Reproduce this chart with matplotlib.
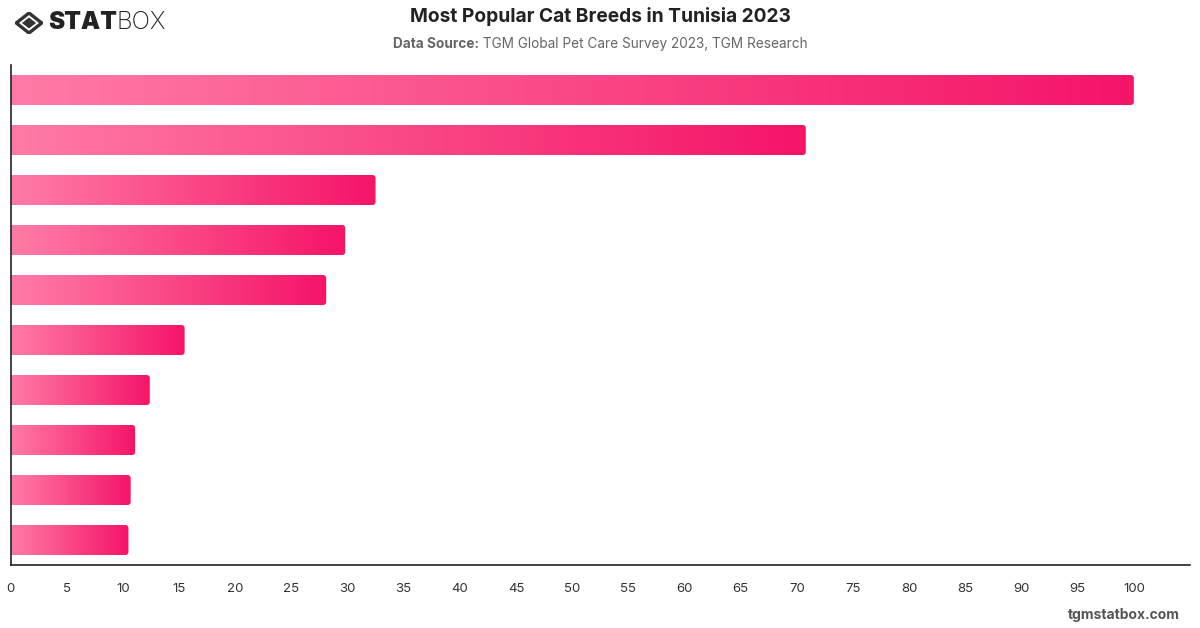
import numpy as np
import matplotlib
matplotlib.use('Agg')
import matplotlib.pyplot as plt
from matplotlib.patches import FancyBboxPatch, Polygon

plt.rcParams['font.family'] = ['Inter', 'DejaVu Sans']

# Valores (escala relativa, maior = 100)
ranks  = [1, 2, 3, 4, 5, 6, 7, 8, 9, 10]
values = [100, 70.8, 32.5, 29.8, 28.1, 15.5, 12.4, 11.1, 10.7, 10.5]
xticks = list(range(0, 101, 5))

TITLE    = 'Most Popular Cat Breeds in Tunisia 2023'
SOURCE_B = 'Data Source:'
SOURCE   = ' TGM Global Pet Care Survey 2023, TGM Research'

C_LEFT  = np.array([0xff, 0x7b, 0xa6]) / 255
C_RIGHT = np.array([0xf5, 0x14, 0x68]) / 255

W, H = 1200, 628
fig = plt.figure(figsize=(W / 100, H / 100), dpi=100)
fig.patch.set_facecolor('white')

ax = fig.add_axes([10.5 / W, 1 - 565 / H, (1190 - 10.5) / W, 500 / H])
ax.set_xlim(0, 105)
ax.set_ylim(len(values) - 0.5, -0.5)

px_x = (1190 - 10.5) / 105      # pixels por unidade em x
px_y = 50.0                     # pixels por unidade em y
r_px = 3.0
bar_h = 0.6

grad = np.linspace(0, 1, 256)[None, :, None]
for i, v in enumerate(values):
    img = C_LEFT + (C_RIGHT - C_LEFT) * grad
    im = ax.imshow(img, extent=[0, v, i + bar_h / 2, i - bar_h / 2],
                   aspect='auto', interpolation='bilinear', zorder=2)
    clip = FancyBboxPatch((-1, i - bar_h / 2), v + 1, bar_h,
                          boxstyle=f'round,pad=0,rounding_size={r_px / px_x}',
                          mutation_aspect=px_x / px_y,
                          facecolor='none', edgecolor='none',
                          transform=ax.transData)
    ax.add_patch(clip)
    im.set_clip_path(clip)

ax.set_xlim(0, 105)
ax.set_ylim(len(values) - 0.5, -0.5)
ax.set_xticks(xticks)
ax.set_xticklabels([str(t) for t in xticks])
ax.set_yticks([])
ax.tick_params(axis='x', length=0, pad=13, labelsize=9.5, labelcolor='#333333')
for s in ['top', 'right']:
    ax.spines[s].set_visible(False)
for s in ['left', 'bottom']:
    ax.spines[s].set_color('#222222')
    ax.spines[s].set_linewidth(1.2)

# Título e fonte
fig.text(600 / W, 1 - 17 / H, TITLE, ha='center', va='center',
         fontsize=13.8, fontweight='bold', color='#222222')
t1 = fig.text(0, 1 - 44 / H, SOURCE_B, ha='left', va='center',
              fontsize=9.8, fontweight='bold', color='#666666')
t2 = fig.text(0, 1 - 44 / H, SOURCE, ha='left', va='center',
              fontsize=9.8, color='#666666')
fig.canvas.draw()
r = fig.canvas.get_renderer()
w1 = t1.get_window_extent(r).width
w2 = t2.get_window_extent(r).width
x0 = (600 - (w1 + w2) / 2)
t1.set_x(x0 / W)
t2.set_x((x0 + w1) / W)

# Logo STATBOX
lax = fig.add_axes([15 / W, 1 - 34 / H, 28 / W, 22 / H])
lax.set_xlim(-1.1, 1.1)
lax.set_ylim(-1.1, 1.1)
lax.axis('off')
outer = Polygon([[0, 1], [1, 0], [0, -1], [-1, 0]], closed=True,
                facecolor='none', edgecolor='#333333', linewidth=2.4)
inner = Polygon([[0, 0.55], [0.55, 0], [0, -0.55], [-0.55, 0]], closed=True,
                facecolor='#333333', edgecolor='none')
lax.add_patch(outer)
lax.add_patch(inner)
s1 = fig.text(48 / W, 1 - 22.5 / H, 'STAT', ha='left', va='center',
              fontsize=17.5, fontweight='black', color='#222222')
fig.canvas.draw()
ws = s1.get_window_extent(r).width
fig.text((48 + ws) / W, 1 - 22.5 / H, 'BOX', ha='left', va='center',
         fontsize=17.5, fontweight='light', color='#222222')

fig.text(1180 / W, 1 - 615 / H, 'tgmstatbox.com', ha='right', va='center',
         fontsize=10, fontweight='bold', color='#555555')

fig.savefig('out.png', dpi=100)
